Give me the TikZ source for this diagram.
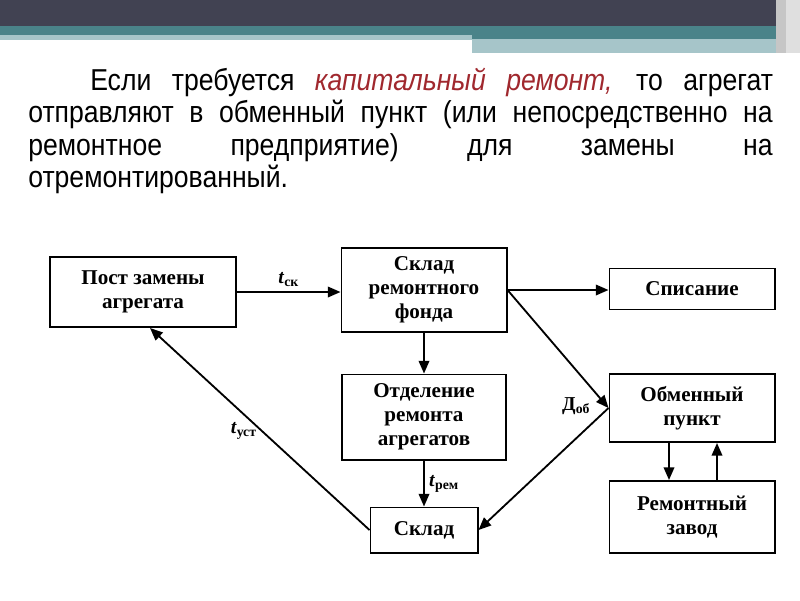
\documentclass[tikz,border=0pt]{standalone}
\usepackage{fontspec}
\setmainfont{Liberation Serif}
\newfontfamily\parafont[FakeStretch=0.88]{Liberation Sans}
\usetikzlibrary{arrows.meta,calc}

\definecolor{bardark}{HTML}{414252}
\definecolor{barteal}{HTML}{4A8389}
\definecolor{barlight}{HTML}{A6C5C9}
\definecolor{accent}{HTML}{A0282E}

\newcommand{\flowlbl}[2]{#1\textsubscript{#2}}

\begin{document}
\begin{tikzpicture}[x=0.025cm, y=-0.025cm,
    block/.style={draw, line width=1.4pt, align=center, inner sep=2pt,
      font=\fontsize{15}{17}\selectfont\bfseries},
    arrow/.style={-{Triangle[length=9pt,width=7.5pt]}, line width=1.3pt},
    lab/.style={font=\fontsize{14}{16}\selectfont\bfseries, inner sep=3pt},
    para/.style={anchor=base west, inner sep=0pt, font=\fontsize{21.5}{24}\parafont}
]
\useasboundingbox (0,0) rectangle (800,600);

% top bar
\fill[bardark] (0,0) rectangle (800,26);
\fill[barteal] (0,26) rectangle (800,35);
\fill[barlight] (0,35) rectangle (472,40);
\fill[barteal] (472,35) rectangle (800,39);
\fill[barlight] (472,39) rectangle (800,53);
\fill[gray!45] (776,0) rectangle (800,53);
\fill[gray!25] (786,0) rectangle (800,53);

% paragraph
\node[para] (line1) at (90,90) {\makebox[485.5pt][s]{Если требуется \textcolor{accent}{\textit{капитальный ремонт,}} то агрегат}};
\node[para] (line2) at (28,122) {\makebox[529.4pt][s]{отправляют в обменный пункт (или непосредственно на}};
\node[para] (line3) at (28,155) {\makebox[529.4pt][s]{ремонтное предприятие) для замены на}};
\node[para] (line4) at (28,187) {отремонтированный.};

% blocks
\node[block, minimum width=4.65cm, minimum height=1.75cm] (post) at (143,292) {Пост замены\\агрегата};
\node[block, minimum width=4.125cm, minimum height=2.1cm] (fond) at (424,290) {Склад\\ремонтного\\фонда};
\node[block, minimum width=4.125cm, minimum height=1.025cm] (spis) at (692,289) {Списание};
\node[block, minimum width=4.1cm, minimum height=2.125cm] (otd) at (424,417) {Отделение\\ремонта\\агрегатов};
\node[block, minimum width=4.125cm, minimum height=1.7cm] (obm) at (692,408) {Обменный\\пункт};
\node[block, minimum width=4.125cm, minimum height=1.8cm] (zavod) at (692,517) {Ремонтный\\завод};
\node[block, minimum width=2.675cm, minimum height=1.125cm] (sklad) at (424,530) {Склад};

% connectors
\draw[arrow] (post.east) -- node[lab, above] {\flowlbl{\textit{t}}{ск}} (post.east -| fond.west);
\draw[arrow] (fond.east) -- (fond.east -| spis.west);
\draw[arrow] (fond.south) -- (otd.north);
\draw[arrow] (otd.south) -- node[lab, right] {\flowlbl{\textit{t}}{рем}} (sklad.north);
\draw[arrow] (fond.east) -- node[lab, pos=0.87, below left] {\flowlbl{Д}{об}} (obm.west);
\draw[arrow] (obm.west) -- (sklad.east);
\draw[arrow] (sklad.west) -- node[lab, pos=0.49, left] {\flowlbl{\textit{t}}{уст}} ($(post.south)+(7,0)$);
\draw[arrow] ($(obm.south)+(-23,0)$) -- ($(zavod.north)+(-23,0)$);
\draw[arrow] ($(zavod.north)+(25,0)$) -- ($(obm.south)+(25,0)$);
\end{tikzpicture}
\end{document}
